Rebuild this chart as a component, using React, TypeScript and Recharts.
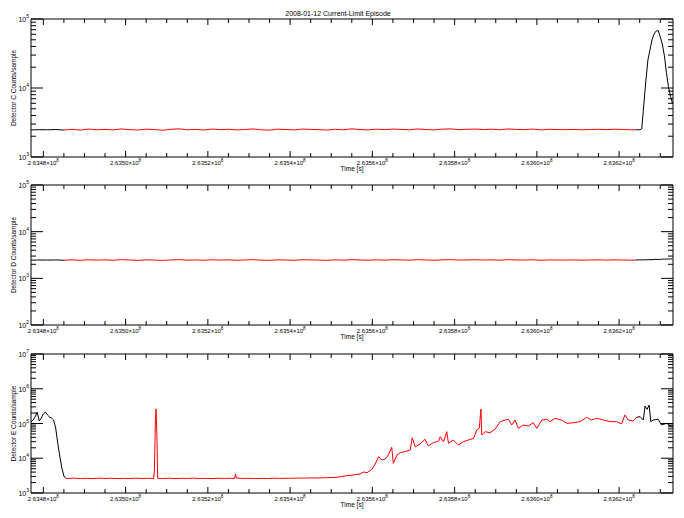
import React from 'react';
import { LineChart, Line, XAxis, YAxis } from 'recharts';

const FONT = '"Liberation Sans", Arial, sans-serif';

const TITLE = '2008-01-12 Current-Limit Episode';
const X_TITLE = 'Time [s]';
const Y_TITLES = ['Detector C Counts/sample', 'Detector D Counts/sample', 'Detector E Counts/sample'];

// time in kiloseconds
const TIME_DOMAIN = [263477.0, 263633.1];
const TIME_MAJOR = [263480, 263500, 263520, 263540, 263560, 263580, 263600, 263620];
const TIME_TICKS = [
  263480, 263485, 263490, 263495, 263500, 263505, 263510, 263515, 263520, 263525,
  263530, 263535, 263540, 263545, 263550, 263555, 263560, 263565, 263570, 263575,
  263580, 263585, 263590, 263595, 263600, 263605, 263610, 263615, 263620, 263625, 263630,
];

const MANTISSAS = [1, 2, 3, 4, 5, 6, 7, 8, 9];
const TOP_DECADES = [3, 4, 5];
const MID_DECADES = [2, 3, 4, 5];
const BOT_DECADES = [3, 4, 5, 6, 7];

// shared sampling for detectors C and D
const cdTimes = [
  263477, 263479, 263481, 263483, 263485, 263487, 263489, 263491, 263493, 263495,
  263497, 263499, 263501, 263503, 263505, 263507, 263509, 263511, 263513, 263515,
  263517, 263519, 263521, 263523, 263525, 263527, 263529, 263531, 263533, 263535,
  263537, 263539, 263541, 263543, 263545, 263547, 263549, 263551, 263553, 263555,
  263557, 263559, 263561, 263563, 263565, 263567, 263569, 263571, 263573, 263575,
  263577, 263579, 263581, 263583, 263585, 263587, 263589, 263591, 263593, 263595,
  263597, 263599, 263601, 263603, 263605, 263607, 263609, 263611, 263613, 263615,
  263617, 263619, 263621, 263623,
  263624, 263625, 263625.5, 263626, 263626.5, 263627, 263627.5, 263628, 263628.5, 263629,
  263629.5, 263630, 263630.5, 263631, 263631.5, 263632, 263632.5, 263633,
];

const detCCounts = [
  2470, 2490, 2480, 2500, 2460, 2520, 2450, 2540, 2480, 2510,
  2470, 2550, 2490, 2460, 2530, 2500, 2440, 2520, 2560, 2480,
  2510, 2460, 2540, 2490, 2520, 2470, 2500, 2550, 2480, 2450,
  2530, 2500, 2470, 2540, 2510, 2490, 2460, 2520, 2480, 2560,
  2500, 2470, 2530, 2490, 2540, 2510, 2480, 2550, 2500, 2470,
  2530, 2560, 2490, 2520, 2540, 2500, 2530, 2480, 2550, 2510,
  2490, 2540, 2470, 2520, 2500, 2490, 2510, 2480, 2500, 2520,
  2490, 2530, 2500, 2480,
  2490, 2480, 2560, 5700, 12600, 25500, 35600, 49700, 60700, 67000,
  68000, 55000, 43500, 29500, 16700, 10400, 7550, 5950,
];

const detDCounts = [
  2450, 2470, 2460, 2480, 2440, 2490, 2430, 2500, 2460, 2480,
  2440, 2510, 2470, 2430, 2490, 2460, 2420, 2480, 2510, 2450,
  2480, 2440, 2500, 2460, 2490, 2440, 2470, 2510, 2450, 2430,
  2490, 2470, 2440, 2500, 2480, 2460, 2430, 2490, 2450, 2510,
  2470, 2440, 2490, 2460, 2500, 2480, 2450, 2510, 2470, 2440,
  2490, 2510, 2460, 2480, 2500, 2470, 2490, 2450, 2510, 2480,
  2460, 2500, 2440, 2480, 2470, 2460, 2480, 2450, 2470, 2490,
  2460, 2490, 2470, 2450,
  2470, 2490, 2480, 2500, 2490, 2510, 2520, 2500, 2540, 2560,
  2530, 2550, 2580, 2570, 2600, 2580, 2610, 2600,
];

const detETimes = [
  263477.0, 263477.5, 263478.0, 263478.5, 263479.0, 263479.5, 263480.0, 263480.5, 263481.0, 263481.5,
  263482.0, 263482.5, 263483.0, 263483.5, 263484.0, 263484.5, 263485.0, 263485.5,
  263486.0, 263487.5, 263489.0, 263490.5, 263492.0, 263493.5, 263495.0, 263496.5, 263498.0, 263499.5,
  263501.0, 263502.5, 263504.0, 263505.5, 263506.8, 263507.0, 263507.25, 263507.4, 263507.6, 263507.8,
  263509.0, 263510.5, 263512.0, 263513.5, 263515.0, 263516.5, 263518.0, 263519.5, 263521.0, 263522.5,
  263524.0, 263525.5, 263526.5, 263526.7, 263527.0, 263528.5, 263530.0, 263531.5, 263533.0, 263534.5,
  263536.0, 263537.5, 263539.0, 263540.5, 263542.0, 263543.5, 263545.0, 263546.5, 263548.0,
  263548.9, 263551.4, 263553.8, 263555.4, 263557.0, 263557.8, 263558.7, 263559.9, 263560.7, 263561.5,
  263562.3, 263563.1, 263563.9, 263564.7, 263565.1, 263566.0, 263566.8, 263568.0, 263569.2, 263569.7,
  263570.4, 263571.6, 263572.8, 263573.6, 263574.8, 263576.1, 263576.5, 263577.3, 263578.1, 263578.5,
  263579.7, 263580.9, 263582.1, 263583.3, 263584.6, 263585.4, 263586.0, 263586.4, 263586.6, 263587.4,
  263588.6, 263589.8, 263591.1, 263592.3, 263593.1, 263593.9, 263594.7, 263595.5, 263596.7, 263597.9,
  263599.1, 263600.0, 263601.2, 263602.4, 263603.2, 263604.4, 263606.0, 263607.3, 263608.9, 263610.5,
  263612.1, 263613.3, 263614.5, 263616.2, 263617.8, 263619.4, 263620.6, 263621.4, 263622.2, 263623.4,
  263624.3, 263625.1, 263625.9, 263626.3, 263626.8, 263627.3, 263627.7, 263628.3, 263629.5, 263630.3,
  263631.6, 263632.4, 263633.1,
];

const detECounts = [
  110000, 126000, 154000, 214000, 118000, 144000, 188000, 214000, 176000, 154000,
  144000, 126000, 74300, 27500, 11600, 5240, 3080, 2610,
  2620, 2680, 2600, 2650, 2590, 2670, 2620, 2660, 2600, 2640,
  2610, 2670, 2620, 2650, 2600, 4300, 126000, 261000, 49900, 2650,
  2610, 2660, 2600, 2650, 2620, 2670, 2610, 2640, 2600, 2660,
  2620, 2650, 2610, 3500, 2700, 2620, 2650, 2600, 2640, 2610,
  2660, 2630, 2650, 2660, 2700, 2680, 2720, 2700, 2740,
  2760, 2830, 3150, 3290, 3520, 4020, 3840, 4800, 6830, 11100,
  8900, 9500, 12400, 20700, 7140, 12400, 14500, 15500, 17300, 39000,
  21500, 25700, 35100, 22600, 28000, 31300, 41700, 29800, 58100, 27000,
  33400, 24000, 29800, 33400, 37400, 65000, 72600, 261000, 46500, 58100,
  54300, 68000, 113000, 126000, 132000, 90600, 126000, 72600, 90600, 84500,
  105000, 72600, 126000, 132000, 113000, 141000, 126000, 101000, 105000, 113000,
  151000, 126000, 141000, 126000, 113000, 113000, 97200, 176000, 126000, 118000,
  151000, 157000, 126000, 319000, 255000, 340000, 113000, 126000, 132000, 90600,
  101000, 84500, 84500,
];

// highlighted (red) interval for each detector, ks
const DET_C_RED = [263485, 263624];
const DET_D_RED = [263485, 263624];
const DET_E_RED = [263485.5, 263624.3];

const PLOT_LEFT = 31;
const PLOT_RIGHT = 673;
const CHART_W = 684;

function XTick(props: any) {
  const { x, y, payload, side } = props;
  const v = payload.value;
  const major = TIME_MAJOR.includes(v);
  const len = major ? 6 : 4;
  if (side === 'top') {
    return <line x1={x} x2={x} y1={y} y2={y + len} stroke="#000" strokeWidth={1} />;
  }
  return (
    <g>
      <line x1={x} x2={x} y1={y} y2={y - len} stroke="#000" strokeWidth={1} />
      {major && (
        <text x={x} y={y + 8} textAnchor="middle" fontSize={6} fontFamily={FONT} fill="#000">
          {(v / 1e5).toFixed(4)}×10
          <tspan dy={-3} fontSize={4.5}>8</tspan>
        </text>
      )}
    </g>
  );
}

function YTick(props: any) {
  const { x, y, payload, side } = props;
  const v = payload.value;
  const exp = Math.round(Math.log10(v));
  const major = Math.abs(v - Math.pow(10, exp)) < 1e-6 * v;
  const len = major ? 12 : 5;
  if (side === 'right') {
    return <line x1={x} x2={x - len} y1={y} y2={y} stroke="#000" strokeWidth={1} />;
  }
  return (
    <g>
      <line x1={x} x2={x + len} y1={y} y2={y} stroke="#000" strokeWidth={1} />
      {major && (
        <text x={x - 2} y={y + 3} textAnchor="end" fontSize={7} fontFamily={FONT} fill="#000">
          10
          <tspan dy={-4} fontSize={5}>{exp}</tspan>
        </text>
      )}
    </g>
  );
}

type PanelProps = {
  top: number;
  height: number;
  plotTop: number;
  plotBottom: number;
  times: number[];
  counts: number[];
  red: number[];
  decades: number[];
};

function Panel({ top, height, plotTop, plotBottom, times, counts, red, decades }: PanelProps) {
  const rows = times.map((t, i) => ({
    t,
    black: t <= red[0] || t >= red[1] ? counts[i] : null,
    red: t >= red[0] && t <= red[1] ? counts[i] : null,
  }));
  const yTicks: number[] = [];
  decades.forEach((d, k) => {
    if (k === decades.length - 1) yTicks.push(Math.pow(10, d));
    else MANTISSAS.forEach((m) => yTicks.push(m * Math.pow(10, d)));
  });
  const yDomain = [Math.pow(10, decades[0]), Math.pow(10, decades[decades.length - 1])];
  const axisLine = { stroke: '#000', strokeWidth: 1 };
  const topH = plotTop - top;
  const bottomH = top + height - plotBottom;
  return (
    <div style={{ position: 'absolute', left: 0, top }}>
      <LineChart
        width={CHART_W}
        height={height}
        data={rows}
        margin={{ top: 0, right: 0, bottom: 0, left: 0 }}
      >
        <XAxis
          xAxisId="b"
          dataKey="t"
          type="number"
          domain={TIME_DOMAIN}
          allowDataOverflow
          ticks={TIME_TICKS}
          interval={0}
          height={bottomH}
          tickSize={0}
          tickMargin={0}
          tickLine={false}
          axisLine={axisLine}
          tick={(p: any) => <XTick {...p} side="bottom" />}
        />
        <XAxis
          xAxisId="t"
          orientation="top"
          dataKey="t"
          type="number"
          domain={TIME_DOMAIN}
          allowDataOverflow
          ticks={TIME_TICKS}
          interval={0}
          height={topH}
          tickSize={0}
          tickMargin={0}
          tickLine={false}
          axisLine={axisLine}
          tick={(p: any) => <XTick {...p} side="top" />}
        />
        <YAxis
          yAxisId="l"
          scale="log"
          type="number"
          domain={yDomain}
          allowDataOverflow
          ticks={yTicks}
          interval={0}
          width={PLOT_LEFT}
          tickSize={0}
          tickMargin={0}
          tickLine={false}
          axisLine={axisLine}
          tick={(p: any) => <YTick {...p} side="left" />}
        />
        <YAxis
          yAxisId="r"
          orientation="right"
          scale="log"
          type="number"
          domain={yDomain}
          allowDataOverflow
          ticks={yTicks}
          interval={0}
          width={CHART_W - PLOT_RIGHT}
          tickSize={0}
          tickMargin={0}
          tickLine={false}
          axisLine={axisLine}
          tick={(p: any) => <YTick {...p} side="right" />}
        />
        <Line
          xAxisId="b"
          yAxisId="l"
          dataKey="black"
          type="linear"
          stroke="#000000"
          strokeWidth={1}
          dot={false}
          connectNulls={false}
          isAnimationActive={false}
        />
        <Line
          xAxisId="b"
          yAxisId="l"
          dataKey="red"
          type="linear"
          stroke="#ff0000"
          strokeWidth={1}
          dot={false}
          connectNulls={false}
          isAnimationActive={false}
        />
      </LineChart>
    </div>
  );
}

const PANELS = [
  { top: 0, height: 175, plotTop: 19, plotBottom: 157 },
  { top: 175, height: 170, plotTop: 185, plotBottom: 325 },
  { top: 345, height: 173, plotTop: 354, plotBottom: 493 },
];

export default function App() {
  const xCenter = (PLOT_LEFT + PLOT_RIGHT) / 2;
  return (
    <div
      style={{
        position: 'absolute',
        left: 0,
        top: 0,
        width: 684,
        height: 518,
        background: '#fff',
        overflow: 'hidden',
      }}
    >
      <Panel {...PANELS[0]} times={cdTimes} counts={detCCounts} red={DET_C_RED} decades={TOP_DECADES} />
      <Panel {...PANELS[1]} times={cdTimes} counts={detDCounts} red={DET_D_RED} decades={MID_DECADES} />
      <Panel {...PANELS[2]} times={detETimes} counts={detECounts} red={DET_E_RED} decades={BOT_DECADES} />
      <svg
        width={684}
        height={518}
        style={{ position: 'absolute', left: 0, top: 0, pointerEvents: 'none' }}
      >
        <text x={338} y={16} textAnchor="middle" fontSize={7} fontFamily={FONT} fill="#000">
          {TITLE}
        </text>
        {PANELS.map((p, i) => {
          const cy = (p.plotTop + p.plotBottom) / 2;
          return (
            <g key={i}>
              <text
                x={15.5}
                y={cy}
                transform={`rotate(-90 15.5 ${cy})`}
                textAnchor="middle"
                fontSize={6.5}
                fontFamily={FONT}
                fill="#000"
              >
                {Y_TITLES[i]}
              </text>
              <text
                x={xCenter}
                y={p.plotBottom + 14}
                textAnchor="middle"
                fontSize={6.5}
                fontFamily={FONT}
                fill="#000"
              >
                {X_TITLE}
              </text>
            </g>
          );
        })}
      </svg>
    </div>
  );
}
